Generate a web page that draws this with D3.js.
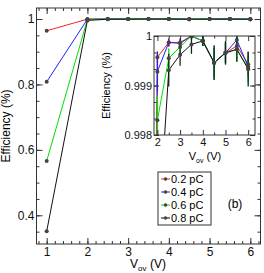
<!DOCTYPE html>
<html>
<head>
<meta charset="utf-8">
<script src="https://cdn.jsdelivr.net/npm/d3@7"></script>
<style>
  body { margin: 0; background: #fff; }
  svg { font-family: "Liberation Sans", Arial, sans-serif; }
</style>
</head>
<body>
<div id="chart"></div>
<script>
const voltages = [1, 2, 2.5, 3, 3.5, 4, 4.5, 5, 5.5, 6];
const charges = ['0.2 pC', '0.4 pC', '0.6 pC', '0.8 pC'];
const colors = ['#ff2020', '#2020ff', '#00e000', '#111111'];

const eff02 = [0.964, 0.99957, 0.99987, 0.99987, 1.0, 0.9999, 0.99946, 0.99966, 0.9998, 0.99943];
const eff04 = [0.808, 0.99928, 0.99987, 0.99985, 1.0, 0.9999, 0.99946, 0.99966, 0.99992, 0.99938];
const eff06 = [0.566, 0.9983, 0.99955, 0.99978, 1.0, 0.9999, 0.99946, 0.99966, 0.99973, 0.99936];
const eff08 = [0.351, 0.9957, 0.99931, 0.99962, 0.99983, 0.9999, 0.99946, 0.99966, 0.99973, 0.99933];

const err02 = [0, 0.00012, 0.00008, 0.00008, 0.00005, 0.0001, 0.0003, 0.0002, 0.00012, 0.00025];
const err04 = [0, 0.0004, 0.00008, 0.0001, 0.00005, 0.0001, 0.0003, 0.0002, 0.00012, 0.0002];
const err06 = [0, 0.0005, 0.0002, 0.00015, 0.00008, 0.0001, 0.00035, 0.00022, 0.00025, 0.0003];
const err08 = [0, 0.001, 0.00033, 0.00022, 0.00019, 0.0001, 0.00035, 0.00024, 0.00025, 0.00035];

const mainYTicks = [0.4, 0.6, 0.8, 1];
const mainXTicks = [1, 2, 3, 4, 5, 6];
const insetYTicks = [0.998, 0.999, 1];
const insetXTicks = [2, 3, 4, 5, 6];

const effs = [eff02, eff04, eff06, eff08];
const errs = [err02, err04, err06, err08];
const series = charges.map((c, k) => ({
  name: c, color: colors[k],
  points: voltages.map((v, i) => ({ v: v, e: effs[k][i], err: errs[k][i] }))
}));

const width = 264, height = 273;
const svg = d3.select('#chart').append('svg')
  .attr('width', width).attr('height', height);

// main frame
const m = { left: 36.5, right: 260.5, top: 8, bottom: 244 };
const x = d3.scaleLinear().domain([0.75, 6.25]).range([m.left, m.right]);
const y = d3.scaleLinear().domain([0.3123, 1.0336]).range([m.bottom, m.top]);

function frameAxes(g, xs, ys, xmaj, xmin, ymaj, ymin, box, tl, fs) {
  g.append('rect').attr('x', box.left).attr('y', box.top)
    .attr('width', box.right - box.left).attr('height', box.bottom - box.top)
    .attr('fill', 'none').attr('stroke', '#333').attr('stroke-width', 1);
  // bottom
  g.append('g').attr('transform', `translate(0,${box.bottom})`)
    .call(d3.axisBottom(xs).tickValues(xmaj).tickSize(-tl).tickPadding(3).tickFormat(d3.format('d')))
    .call(a => a.select('.domain').remove())
    .attr('font-size', fs).attr('font-family', null);
  g.append('g').attr('transform', `translate(0,${box.bottom})`)
    .call(d3.axisBottom(xs).tickValues(xmin).tickSize(-tl / 2).tickFormat(''))
    .call(a => a.select('.domain').remove());
  // top
  g.append('g').attr('transform', `translate(0,${box.top})`)
    .call(d3.axisTop(xs).tickValues(xmaj).tickSize(-tl).tickFormat(''))
    .call(a => a.select('.domain').remove());
  g.append('g').attr('transform', `translate(0,${box.top})`)
    .call(d3.axisTop(xs).tickValues(xmin).tickSize(-tl / 2).tickFormat(''))
    .call(a => a.select('.domain').remove());
  // left
  g.append('g').attr('transform', `translate(${box.left},0)`)
    .call(d3.axisLeft(ys).tickValues(ymaj).tickSize(-tl).tickPadding(2).tickFormat(d => d3.format('')(+d.toFixed(3))))
    .call(a => a.select('.domain').remove())
    .attr('font-size', fs).attr('font-family', null);
  g.append('g').attr('transform', `translate(${box.left},0)`)
    .call(d3.axisLeft(ys).tickValues(ymin).tickSize(-tl / 2).tickFormat(''))
    .call(a => a.select('.domain').remove());
  // right
  g.append('g').attr('transform', `translate(${box.right},0)`)
    .call(d3.axisRight(ys).tickValues(ymaj).tickSize(-tl).tickFormat(''))
    .call(a => a.select('.domain').remove());
  g.append('g').attr('transform', `translate(${box.right},0)`)
    .call(d3.axisRight(ys).tickValues(ymin).tickSize(-tl / 2).tickFormat(''))
    .call(a => a.select('.domain').remove());
  g.selectAll('.tick line').attr('stroke', '#333');
  g.selectAll('.tick text').attr('fill', '#111');
}

const main = svg.append('g');
frameAxes(main, x, y, mainXTicks, d3.range(0.8, 6.25, 0.2), mainYTicks,
  d3.range(0.35, 1.03, 0.05), m, 6, 12);

const line = d3.line().x(d => x(d.v)).y(d => y(d.e));
main.append('g').selectAll('path').data(series).join('path')
  .attr('d', d => line(d.points)).attr('fill', 'none')
  .attr('stroke', d => d.color).attr('stroke-width', 1);
main.append('g').selectAll('g').data(series).join('g')
  .selectAll('circle').data(d => d.points).join('circle')
  .attr('cx', d => x(d.v)).attr('cy', d => y(d.e)).attr('r', 2)
  .attr('fill', '#444');

main.append('text').attr('transform', `translate(10,${(m.top + m.bottom) / 2}) rotate(-90)`)
  .attr('text-anchor', 'middle').attr('font-size', 12).text('Efficiency (%)');
const xt = main.append('text').attr('x', 148).attr('y', 268)
  .attr('text-anchor', 'middle').attr('font-size', 12);
xt.append('tspan').text('V');
xt.append('tspan').attr('font-size', 8).attr('dy', 3).text('ov');
xt.append('tspan').attr('dy', -3).text(' (V)');

// inset
const b = { left: 154, right: 255, top: 36, bottom: 135 };
const xi = d3.scaleLinear().domain([1.85, 6.3]).range([b.left, b.right]);
const yi = d3.scaleLinear().domain([0.998, 1.0]).range([b.bottom, b.top]);

const inset = svg.append('g');
inset.append('rect').attr('x', b.left).attr('y', b.top)
  .attr('width', b.right - b.left).attr('height', b.bottom - b.top).attr('fill', '#fff');
svg.append('clipPath').attr('id', 'clip').append('rect')
  .attr('x', b.left).attr('y', b.top).attr('width', b.right - b.left).attr('height', b.bottom - b.top);

const plot = inset.append('g').attr('clip-path', 'url(#clip)');
const linei = d3.line().x(d => xi(d.v)).y(d => yi(d.e));
series.forEach(s => {
  const g = plot.append('g');
  g.selectAll('line').data(s.points.slice(1)).join('line')
    .attr('x1', d => xi(d.v)).attr('x2', d => xi(d.v))
    .attr('y1', d => yi(d.e - d.err)).attr('y2', d => yi(d.e + d.err))
    .attr('stroke', s.color === '#111111' ? '#0f2a1a' : s.color).attr('stroke-width', 1.3);
  g.append('path').attr('d', linei(s.points)).attr('fill', 'none')
    .attr('stroke', s.color).attr('stroke-width', 1);
});
plot.append('g').selectAll('g').data(series).join('g')
  .selectAll('circle').data(d => d.points.slice(1)).join('circle')
  .attr('cx', d => xi(d.v)).attr('cy', d => yi(d.e)).attr('r', 2)
  .attr('fill', '#444');

frameAxes(inset, xi, yi, insetXTicks, d3.range(2.5, 6.3, 1), insetYTicks,
  d3.range(0.998, 1.0, 0.001 / 3), b, 5, 11);

inset.append('text').attr('transform', `translate(110,${(b.top + b.bottom) / 2}) rotate(-90)`)
  .attr('text-anchor', 'middle').attr('font-size', 11).text('Efficiency (%)');
const xti = inset.append('text').attr('x', 205).attr('y', 160)
  .attr('text-anchor', 'middle').attr('font-size', 11);
xti.append('tspan').text('V');
xti.append('tspan').attr('font-size', 7).attr('dy', 3).text('ov');
xti.append('tspan').attr('dy', -3).text(' (V)');

// legend
const lg = svg.append('g').attr('transform', 'translate(158,172)');
lg.append('rect').attr('width', 53).attr('height', 53)
  .attr('fill', '#fff').attr('stroke', '#333');
const items = lg.selectAll('g').data(series).join('g')
  .attr('transform', (d, i) => `translate(0,${7 + i * 13})`);
items.append('line').attr('x1', 3).attr('x2', 12).attr('stroke', d => d.color);
items.append('circle').attr('cx', 7.5).attr('r', 1.8).attr('fill', '#444');
items.append('text').attr('x', 13).attr('dy', '0.35em').attr('font-size', 11)
  .text(d => d.name);

svg.append('text').attr('x', 235).attr('y', 208).attr('text-anchor', 'middle')
  .attr('font-size', 12).text('(b)');
</script>
</body>
</html>
